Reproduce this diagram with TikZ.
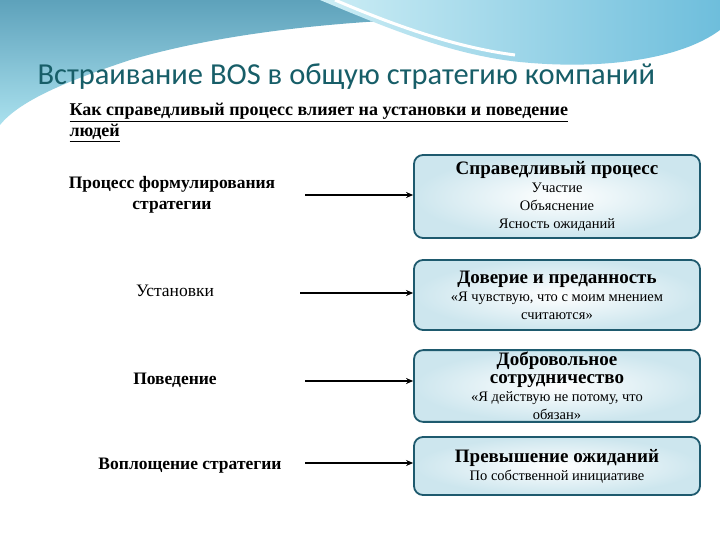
\documentclass[tikz,border=0pt]{standalone}
\usepackage{fontspec}
\setmainfont{Liberation Serif}
\newfontfamily\titlefont{Carlito}
\usetikzlibrary{arrows.meta}
\definecolor{teal1}{RGB}{23,94,104}
\definecolor{boxb}{RGB}{30,90,110}
\definecolor{boxf}{RGB}{205,230,238}
\definecolor{wave1}{RGB}{110,190,220}
\definecolor{wave2}{RGB}{170,225,238}
\tikzset{
 card/.style={draw=boxb,line width=1.8pt,rounded corners=9pt,inner color=white,outer color=boxf,minimum width=286pt,inner sep=2pt,align=center,font=\fontsize{14.5}{18}\selectfont},
 lab/.style={align=center,font=\fontsize{17.5}{21}\selectfont},
 arr/.style={-{Stealth[length=7pt,width=6pt]},line width=1.8pt,black}
}
\newcommand\bt[1]{\textbf{\fontsize{19}{21}\selectfont #1}}
\begin{document}
\begin{tikzpicture}[x=1pt,y=-1pt]
\useasboundingbox (0,0) rectangle (720,540);
\fill[white] (0,0) rectangle (720,540);
\shade[top color=wave1!85!black,bottom color=wave2] (0,0) -- (720,0) -- (720,30) .. controls (560,10) and (300,10) .. (130,60) .. controls (70,80) and (20,100) .. (0,125) -- cycle;
\shade[left color=wave2!60,right color=wave1] (320,0) -- (720,0) -- (720,30) .. controls (680,60) and (600,70) .. (520,62) .. controls (450,55) and (380,25) .. (320,0) -- cycle;
\draw[white,line width=3pt] (335,0) .. controls (400,28) and (460,48) .. (515,55);
\node[anchor=west,text=teal1,font=\titlefont\fontsize{30.5}{34}\selectfont] (title) at (34,77) {Встраивание BOS в общую стратегию компаний};
\node[anchor=north west,align=left,font=\bfseries\fontsize{18}{21}\selectfont] (sub) at (66,100) {\underline{Как справедливый процесс влияет на установки и поведение}\\\underline{людей}};
\node[card,minimum height=83pt] (b1) at (557,196.5) {\bt{Справедливый процесс}\\Участие\\Объяснение\\Ясность ожиданий};
\node[card,minimum height=70pt] (b2) at (557,295) {\bt{Доверие и преданность}\\«Я чувствую, что с моим мнением\\считаются»};
\node[card,minimum height=70pt] (b3) at (557,386) {\bt{Добровольное}\\\bt{сотрудничество}\\«Я действую не потому, что\\обязан»};
\node[card,minimum height=58pt] (b4) at (557,466) {\bt{Превышение ожиданий}\\По собственной инициативе};
\node[lab,font=\bfseries\fontsize{17.5}{21}\selectfont] (l1) at (172,195) {Процесс формулирования\\стратегии};
\node[lab] (l2) at (175,291) {Установки};
\node[lab,font=\bfseries\fontsize{17.5}{21}\selectfont] (l3) at (175,380) {Поведение};
\node[lab,font=\bfseries\fontsize{17.5}{21}\selectfont] (l4) at (190,466) {Воплощение стратегии};
\coordinate (s1) at (305,195);
\coordinate (s2) at (300,293);
\coordinate (s3) at (305,381);
\coordinate (s4) at (305,463);
\draw[arr] (s1) -- (s1 -| b1.west);
\draw[arr] (s2) -- (s2 -| b2.west);
\draw[arr] (s3) -- (s3 -| b3.west);
\draw[arr] (s4) -- (s4 -| b4.west);
\end{tikzpicture}
\end{document}
